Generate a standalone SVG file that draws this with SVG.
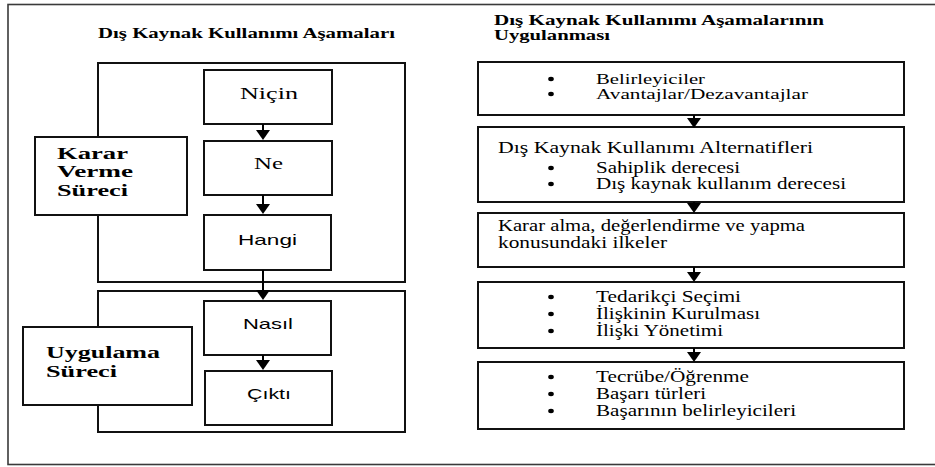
<svg xmlns="http://www.w3.org/2000/svg" width="935" height="467" viewBox="0 0 935 467">
<style>
.frame{fill:none;stroke:#3a3a3a;stroke-width:1.6}
.box{fill:#fff;stroke:#111;stroke-width:2}
.conn{fill:none;stroke:#000;stroke-width:2}
.serif{font-family:"Liberation Serif","Times New Roman",serif;fill:#000}
.sans{font-family:"Liberation Sans",Arial,sans-serif;fill:#000}
.b{font-weight:bold}
.t14{font-size:14px}
.t15{font-size:15px}
.t16{font-size:16px}
.t17{font-size:17px}
.bul{fill:#000}
</style>
<defs>
<marker id="ah" markerUnits="userSpaceOnUse" markerWidth="10" markerHeight="14" viewBox="0 0 10 14" refX="5" refY="7" orient="auto">
<path d="M0,0 L10,7 L0,14 z" fill="#000"/>
</marker>
</defs>
<rect width="935" height="467" fill="#fff"/>
<rect class="frame" x="8" y="4.5" width="940" height="460"/>

<text class="serif b t14" x="98" y="38" textLength="297" lengthAdjust="spacingAndGlyphs">Dış Kaynak Kullanımı Aşamaları</text>
<text class="serif b t14" x="494" y="25" textLength="330" lengthAdjust="spacingAndGlyphs">Dış Kaynak Kullanımı Aşamalarının</text>
<text class="serif b t14" x="494" y="40" textLength="116" lengthAdjust="spacingAndGlyphs">Uygulanması</text>

<g id="karar-group">
<rect class="box" x="98" y="63" width="307" height="219"/>
</g>
<g id="karar-label">
<rect class="box" x="35" y="137" width="152" height="78"/>
<text class="serif b t16" x="57" y="159" textLength="71" lengthAdjust="spacingAndGlyphs">Karar</text>
<text class="serif b t16" x="57" y="177" textLength="76" lengthAdjust="spacingAndGlyphs">Verme</text>
<text class="serif b t16" x="57" y="196" textLength="71" lengthAdjust="spacingAndGlyphs">Süreci</text>
</g>
<g id="nicin">
<rect class="box" x="204" y="70" width="128" height="54"/>
<text class="serif t17" x="240" y="99" textLength="58" lengthAdjust="spacingAndGlyphs">Niçin</text>
</g>
<g id="ne">
<rect class="box" x="204" y="141" width="128" height="54"/>
<text class="serif t17" x="254" y="169" textLength="29" lengthAdjust="spacingAndGlyphs">Ne</text>
</g>
<g id="hangi">
<rect class="box" x="204" y="215" width="127" height="55"/>
<text class="sans t15" x="238" y="245" textLength="59" lengthAdjust="spacingAndGlyphs">Hangi</text>
</g>

<g id="uygulama-group">
<rect class="box" x="98" y="291" width="307" height="141"/>
</g>
<g id="uygulama-label">
<rect class="box" x="23" y="327" width="169" height="78"/>
<text class="serif b t17" x="46" y="358" textLength="114" lengthAdjust="spacingAndGlyphs">Uygulama</text>
<text class="serif b t17" x="46" y="377" textLength="71" lengthAdjust="spacingAndGlyphs">Süreci</text>
</g>
<g id="nasil">
<rect class="box" x="204" y="301" width="127" height="54"/>
<text class="sans t15" x="243" y="329" textLength="50" lengthAdjust="spacingAndGlyphs">Nasıl</text>
</g>
<g id="cikti">
<rect class="box" x="205" y="371" width="127" height="54"/>
<text class="sans t15" x="247" y="399" textLength="44" lengthAdjust="spacingAndGlyphs">Çıktı</text>
</g>

<g id="r1">
<rect class="box" x="478" y="62" width="426" height="53"/>
<ellipse class="bul" cx="551" cy="79" rx="2.8" ry="2.2"/>
<text class="serif t15" x="596" y="84" textLength="109" lengthAdjust="spacingAndGlyphs">Belirleyiciler</text>
<ellipse class="bul" cx="551" cy="94" rx="2.8" ry="2.2"/>
<text class="serif t15" x="596" y="99" textLength="212" lengthAdjust="spacingAndGlyphs">Avantajlar/Dezavantajlar</text>
</g>
<g id="r2">
<rect class="box" x="478" y="127" width="426" height="75"/>
<text class="serif t16" x="498" y="153" textLength="315" lengthAdjust="spacingAndGlyphs">Dış Kaynak Kullanımı Alternatifleri</text>
<ellipse class="bul" cx="551" cy="168" rx="2.8" ry="2.2"/>
<text class="serif t16" x="596" y="173" textLength="144" lengthAdjust="spacingAndGlyphs">Sahiplik derecesi</text>
<ellipse class="bul" cx="551" cy="184" rx="2.8" ry="2.2"/>
<text class="serif t16" x="596" y="189" textLength="250" lengthAdjust="spacingAndGlyphs">Dış kaynak kullanım derecesi</text>
</g>
<g id="r3">
<rect class="box" x="478" y="213" width="426" height="54"/>
<text class="serif t16" x="498" y="231" textLength="307" lengthAdjust="spacingAndGlyphs">Karar alma, değerlendirme ve yapma</text>
<text class="serif t16" x="498" y="248" textLength="169" lengthAdjust="spacingAndGlyphs">konusundaki ilkeler</text>
</g>
<g id="r4">
<rect class="box" x="478" y="282" width="426" height="66"/>
<ellipse class="bul" cx="551" cy="297" rx="2.8" ry="2.2"/>
<text class="serif t16" x="596" y="302" textLength="145" lengthAdjust="spacingAndGlyphs">Tedarikçi Seçimi</text>
<ellipse class="bul" cx="551" cy="314" rx="2.8" ry="2.2"/>
<text class="serif t16" x="596" y="319" textLength="164" lengthAdjust="spacingAndGlyphs">İlişkinin Kurulması</text>
<ellipse class="bul" cx="551" cy="331" rx="2.8" ry="2.2"/>
<text class="serif t16" x="596" y="336" textLength="127" lengthAdjust="spacingAndGlyphs">İlişki Yönetimi</text>
</g>
<g id="r5">
<rect class="box" x="478" y="362" width="426" height="67"/>
<ellipse class="bul" cx="551" cy="377" rx="2.8" ry="2.2"/>
<text class="serif t16" x="596" y="382" textLength="153" lengthAdjust="spacingAndGlyphs">Tecrübe/Öğrenme</text>
<ellipse class="bul" cx="551" cy="394" rx="2.8" ry="2.2"/>
<text class="serif t16" x="596" y="399" textLength="110" lengthAdjust="spacingAndGlyphs">Başarı türleri</text>
<ellipse class="bul" cx="551" cy="411" rx="2.8" ry="2.2"/>
<text class="serif t16" x="596" y="416" textLength="200" lengthAdjust="spacingAndGlyphs">Başarının belirleyicileri</text>
</g>

<g id="connectors">
<path class="conn" d="M263,124 V135" marker-end="url(#ah)"/>
<path class="conn" d="M263,195 V209" marker-end="url(#ah)"/>
<path class="conn" d="M263,270 V295" marker-end="url(#ah)"/>
<path class="conn" d="M263,355 V365" marker-end="url(#ah)"/>
<path class="conn" d="M694,115 V123" marker-end="url(#ah)"/>
<path class="conn" d="M694,202 V208" marker-end="url(#ah)"/>
<path class="conn" d="M694,267 V277" marker-end="url(#ah)"/>
<path class="conn" d="M694,348 V357" marker-end="url(#ah)"/>
</g>
</svg>
